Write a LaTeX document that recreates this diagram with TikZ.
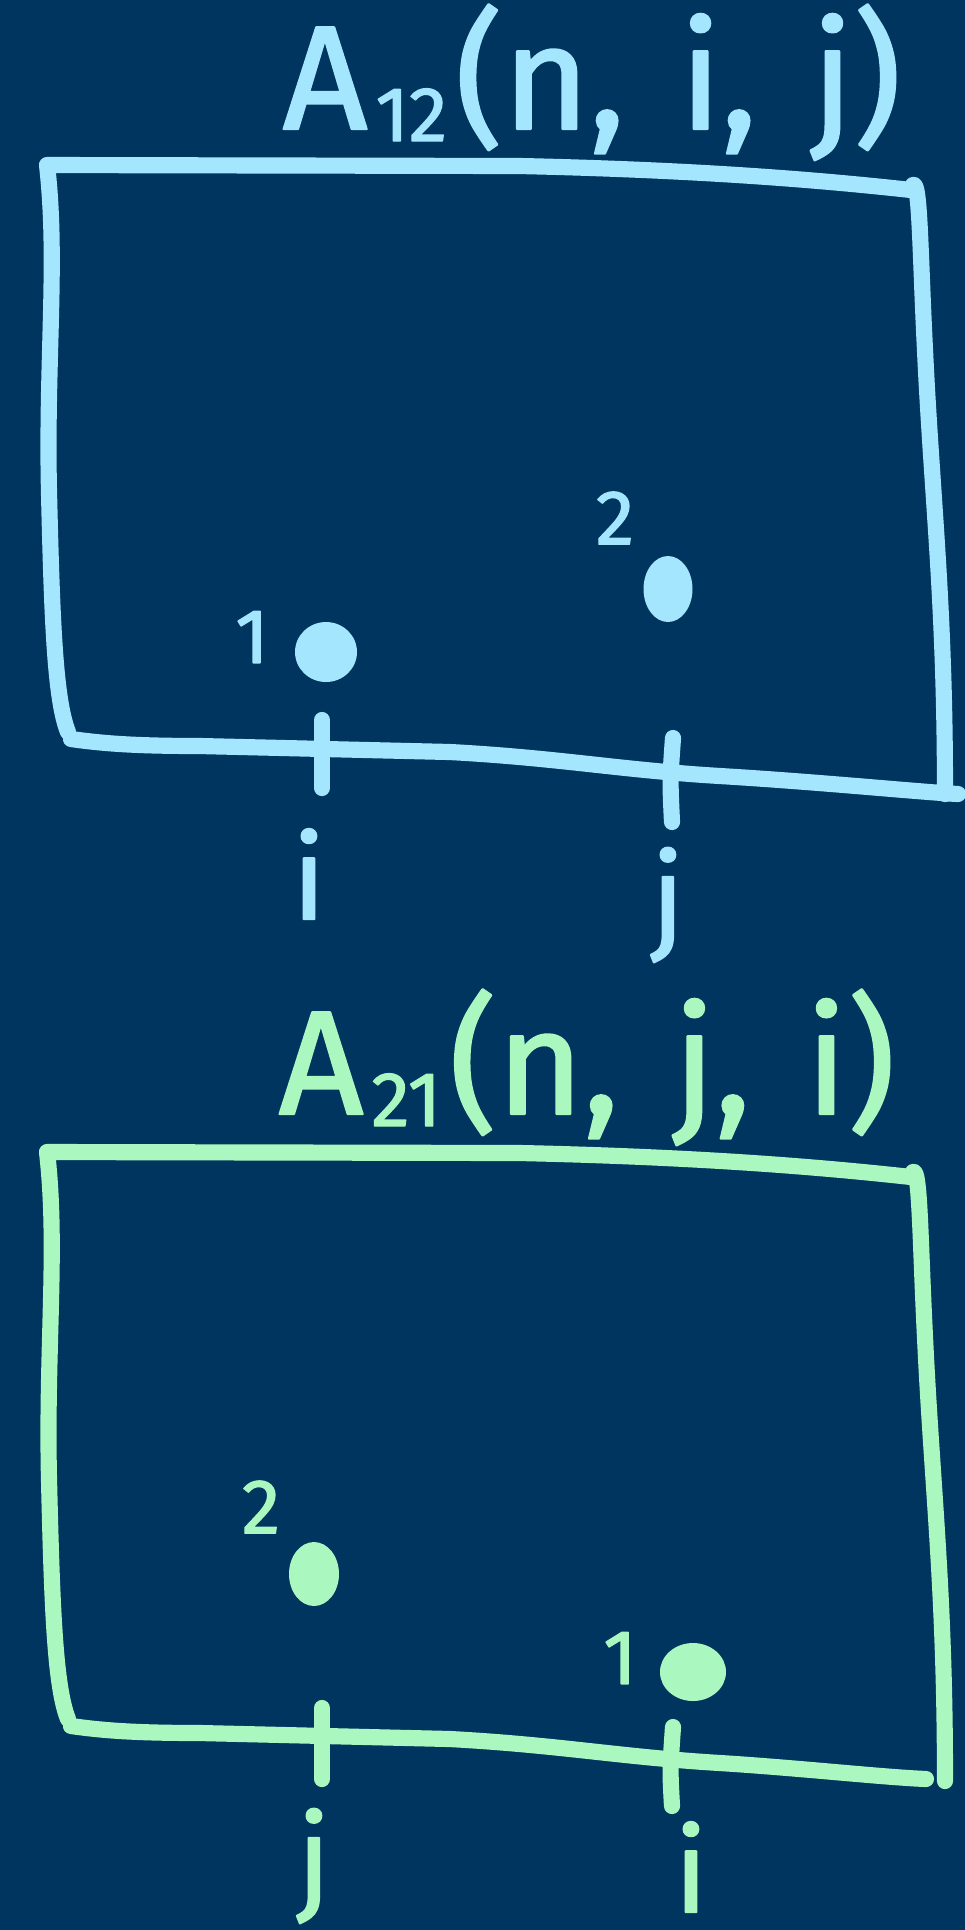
\documentclass[tikz,border=0pt]{standalone}
\usepackage{fontspec}
\setmainfont{Fira Sans}
\newfontfamily\handfont{Fira Sans}[FakeBold=1.6]
\usetikzlibrary{positioning}
\definecolor{cnavy}{HTML}{003560}
\definecolor{cblue}{HTML}{A5E6FF}
\definecolor{cgreen}{HTML}{AAF7C0}
\newcommand{\lowsub}[1]{\kern0.08cm\raisebox{-0.12cm}{\fontsize{22}{24}\selectfont #1}\kern0.08cm}
\newcommand{\wsp}{\hspace{0.55cm}}
\tikzset{
  every picture/.style={line width=4.6pt, line cap=round, line join=round},
  frame/.style={draw=#1},
  tick/.style={draw=#1},
  dot/.style={fill=#1, draw=none},
  title/.style={text=#1, font=\handfont\fontsize{42}{46}\selectfont, anchor=base, inner sep=0pt},
  num/.style={text=#1, font=\handfont\fontsize{22}{24}\selectfont, inner sep=0pt},
  axis/.style={text=#1, font=\handfont\fontsize{33}{36}\selectfont, inner sep=0pt},
}

\begin{document}
\begin{tikzpicture}
  \fill[cnavy] (0,0) rectangle (9.65,-19.3);
  \useasboundingbox (0,0) rectangle (9.65,-19.3);

  % first ordering
  \node[title=cblue] (t12) at (5.92,-1.29) {A\lowsub{12}(n,\wsp i,\wsp j)};
  \draw[frame=cblue] (0.68,-7.32) .. controls (0.55,-7.0) and (0.52,-6.2) .. (0.49,-4.92)
    .. controls (0.46,-3.6) and (0.58,-2.6) .. (0.47,-1.65) -- (5.2,-1.66)
    .. controls (7.0,-1.7) and (8.2,-1.8) .. (9.11,-1.9);
  \draw[frame=cblue] (9.13,-1.85) .. controls (9.2,-1.8) and (9.2,-2.5) .. (9.25,-3.5)
    .. controls (9.32,-5.0) and (9.45,-6.0) .. (9.45,-7.94);
  \draw[frame=cblue] (0.71,-7.39) .. controls (1.0,-7.43) and (1.3,-7.46) .. (2.0,-7.46)
    -- (4.5,-7.52) .. controls (5.6,-7.58) and (6.2,-7.7) .. (7.2,-7.76)
    .. controls (8.2,-7.82) and (9.2,-7.92) .. (9.58,-7.94);
  \fill[dot=cblue] (3.26,-6.52) ellipse [x radius=0.31, y radius=0.30];
  \fill[dot=cblue] (6.68,-5.89) ellipse [x radius=0.245, y radius=0.33];
  \node[num=cblue] (p1) at (2.52,-6.37) {1};
  \node[num=cblue] (p2) at (6.15,-5.18) {2};
  \coordinate (ti) at (3.22,-7.20);
  \coordinate (bi) at (3.22,-7.88);
  \coordinate (tj) at (6.73,-7.38);
  \coordinate (bj) at (6.72,-8.22);
  \draw[tick=cblue] (ti) -- (bi);
  \draw[tick=cblue] (tj) .. controls (6.70,-7.8) .. (bj);
  \node[axis=cblue] (li) at (3.09,-8.74) {i};
  \node[axis=cblue] (lj) at (6.68,-9.05) {j};

  % second ordering
  \node[title=cgreen] (t21) at (5.87,-11.14) {A\lowsub{21}(n,\wsp j,\wsp i)};
  \begin{scope}[yshift=-9.87cm]
    \draw[frame=cgreen] (0.68,-7.32) .. controls (0.55,-7.0) and (0.52,-6.2) .. (0.49,-4.92)
      .. controls (0.46,-3.6) and (0.58,-2.6) .. (0.47,-1.65) -- (5.2,-1.66)
      .. controls (7.0,-1.7) and (8.2,-1.8) .. (9.11,-1.9);
    \draw[frame=cgreen] (9.13,-1.85) .. controls (9.2,-1.8) and (9.2,-2.5) .. (9.25,-3.5)
      .. controls (9.32,-5.0) and (9.45,-6.0) .. (9.45,-7.94);
    \draw[frame=cgreen] (0.71,-7.39) .. controls (1.0,-7.43) and (1.3,-7.46) .. (2.0,-7.46)
      -- (4.5,-7.52) .. controls (5.6,-7.58) and (6.2,-7.7) .. (7.2,-7.76)
      .. controls (8.0,-7.81) and (8.8,-7.9) .. (9.26,-7.92);
  \end{scope}
  \fill[dot=cgreen] (3.14,-15.74) ellipse [x radius=0.25, y radius=0.32];
  \fill[dot=cgreen] (6.93,-16.72) ellipse [x radius=0.33, y radius=0.29];
  \node[num=cgreen] (q2) at (2.61,-15.07) {2};
  \node[num=cgreen] (q1) at (6.20,-16.58) {1};
  \coordinate (tj2) at (3.22,-17.08);
  \coordinate (bj2) at (3.22,-17.79);
  \coordinate (ti2) at (6.73,-17.27);
  \coordinate (bi2) at (6.72,-18.06);
  \draw[tick=cgreen] (tj2) -- (bj2);
  \draw[tick=cgreen] (ti2) .. controls (6.70,-17.7) .. (bi2);
  \node[axis=cgreen] (lj2) at (3.14,-18.66) {j};
  \node[axis=cgreen] (li2) at (6.91,-18.67) {i};
\end{tikzpicture}
\end{document}
